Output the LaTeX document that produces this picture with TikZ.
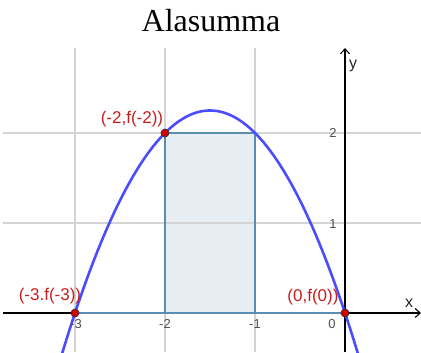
\documentclass[tikz,border=0pt]{standalone}
\usepackage{fontspec}
\setmainfont{Liberation Serif}
\newfontfamily\lsans{Liberation Sans}
\usetikzlibrary{arrows.meta}
\definecolor{gridgray}{HTML}{D4D4D4}
\definecolor{curveblue}{HTML}{4C4CFF}
\definecolor{rectfill}{HTML}{E6EEF4}
\definecolor{rectline}{HTML}{5B8DAE}
\definecolor{ptred}{HTML}{D40000}
\definecolor{lblred}{HTML}{C81E1E}
\definecolor{ticktext}{HTML}{505050}
\tikzset{
  gridline/.style={gridgray, line width=1.6pt},
  axisline/.style={black, line width=1.1pt, -{Straight Barb[length=5pt,width=9pt]}},
  ptlabel/.style={text=lblred, font=\lsans\fontsize{17}{17}\selectfont, inner sep=0pt},
  ticklabel/.style={text=ticktext, font=\lsans\fontsize{13}{13}\selectfont, inner sep=0pt},
  axlabel/.style={text=black!85, font=\lsans\fontsize{16}{16}\selectfont, inner sep=0pt},
  pt/.style={circle, fill=ptred, draw=black!80, line width=0.7pt, inner sep=0pt, minimum size=8pt}
}
\begin{document}
\begin{tikzpicture}[x=90pt,y=90pt]
\useasboundingbox (-3.8333,-0.4333) rectangle (0.8444,3.4778);
% title
\node[anchor=base, font=\fontsize{32}{34}\selectfont, inner sep=0pt] (title) at (-1.4889,3.1222) {Alasumma};
% rectangle
\draw[fill=rectfill, draw=rectline, line width=1.2pt] (-2,0) rectangle (-1,2);
% grid
\foreach \gx in {-3,-2,-1} \draw[gridline] (\gx,-0.4333) -- (\gx,2.944);
\foreach \gy in {1,2} \draw[gridline] (-3.8,\gy) -- (0.8444,\gy);
% rectangle outline over the grid
\draw[draw=rectline, line width=1.2pt] (-2,0) rectangle (-1,2);
% axes
\coordinate (xs) at (-3.8,0);
\coordinate (xe) at (0.8444,0);
\coordinate (ys) at (0,-0.4333);
\coordinate (ye) at (0,2.944);
\draw[axisline] (xs) -- (xe);
\draw[axisline] (ys) -- (ye);
% lower sum base segment
\coordinate (b0) at (-3,0);
\coordinate (b1) at (0,0);
\draw[rectline, line width=1.2pt] (b0) -- (b1);
% curve
\begin{scope}
\clip (-3.8333,-0.4333) rectangle (0.8444,3.4778);
\draw[curveblue, line width=2.6pt, domain=-3.15:0.15, samples=120, smooth] plot (\x,{-(\x)*(\x)-3*(\x)});
\end{scope}
% tick labels
\node[ticklabel] (t3) at (-2.9889,-0.1222) {-3};
\node[ticklabel] (t2) at (-2,-0.1222) {-2};
\node[ticklabel] (t1) at (-1,-0.1222) {-1};
\node[ticklabel] (t0) at (-0.1444,-0.1222) {0};
\node[ticklabel] (ty1) at (-0.1333,0.9889) {1};
\node[ticklabel] (ty2) at (-0.1333,2) {2};
% axis labels
\node[axlabel] (xl) at (0.7111,0.1111) {x};
\node[axlabel] (yl) at (0.0889,2.7444) {y};
% points
\node[pt] (pA) at (-3,0) {};
\node[pt] (pB) at (-2,2) {};
\node[pt] (pC) at (0,0) {};
% point labels
\node[ptlabel] (lA) at (-3.2778,0.1889) {(-3.f(-3))};
\node[ptlabel] (lB) at (-2.3667,2.1556) {(-2,f(-2))};
\node[ptlabel] (lC) at (-0.3556,0.1778) {(0,f(0))};
\end{tikzpicture}
\end{document}
